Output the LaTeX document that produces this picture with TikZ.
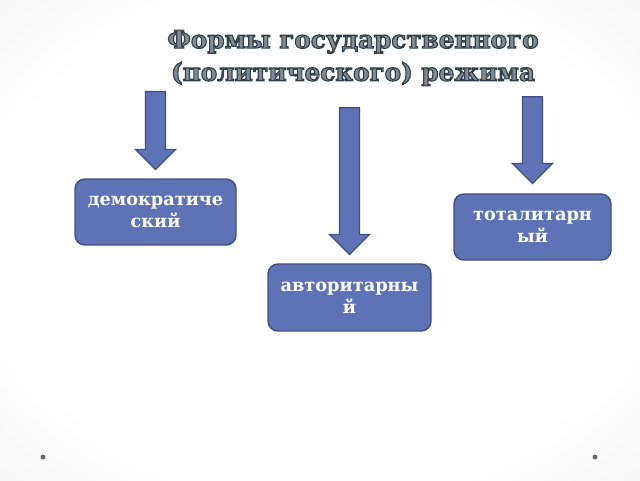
\documentclass[tikz,border=0pt]{standalone}
\usepackage{fontspec}
\setmainfont{DejaVu Serif}
\usetikzlibrary{shapes.arrows}
\definecolor{boxblue}{RGB}{93,115,181}
\definecolor{boxline}{RGB}{62,79,130}
\definecolor{bgmid}{RGB}{236,236,236}
\definecolor{bggray}{RGB}{214,214,214}
\definecolor{titlefill}{RGB}{125,140,150}
\definecolor{dotgray}{RGB}{105,105,105}
\pgfdeclareradialshading{slidebg}{\pgfpoint{0bp}{0bp}}{color(0bp)=(white); color(26bp)=(white); color(50bp)=(bgmid); color(70bp)=(bggray)}
\newcommand{\outlinetext}[1]{\special{pdf:literal 0.2 0.25 0.29 RG 0.85 w 2 Tr}#1\special{pdf:literal 0 Tr}}
\tikzset{
	formbox/.style={draw=boxline, fill=boxblue, line width=1.1pt, rounded corners=7.5pt, text=white, font=\bfseries\fontsize{13.3}{16.5}\selectfont, align=center, inner sep=0pt},
	blockarrow/.style={single arrow, draw=boxline, fill=boxblue, line width=0.9pt, inner sep=0pt, inner ysep=7.1pt, single arrow head extend=7.5pt, single arrow tip angle=90, rotate=-90, anchor=tip},
	titletext/.style={align=center, text=titlefill, font=\bfseries\fontsize{18.5}{24.5}\selectfont, inner sep=0pt},
}
\begin{document}
\begin{tikzpicture}[x=0.75pt, y=-0.75pt]
	\useasboundingbox (0,0) rectangle (640,480);
	\shade[shading=slidebg] (0,0) rectangle (640,480);
	\node[titletext] (title) at (353,58) {\outlinetext{Формы государственного}\\\outlinetext{(политического) режима}};
	\node[formbox, minimum width=120.75pt, minimum height=49.5pt] (dem) at (155.5,212) {демократиче\\ский};
	\node[formbox, minimum width=122.25pt, minimum height=50.25pt] (avt) at (349.5,297.5) {авторитарны\\й};
	\node[formbox, minimum width=117.75pt, minimum height=49.5pt] (tot) at (532.5,227) {тоталитарн\\ый};
	\node[blockarrow, minimum height=58.5pt] (ardem) at ([yshift=6pt]dem.north) {};
	\node[blockarrow, minimum height=110pt] (aravt) at ([yshift=6pt]avt.north) {};
	\node[blockarrow, minimum height=65pt] (artot) at ([yshift=6.75pt]tot.north) {};
	\fill[dotgray] (43,457) circle (2.5);
	\fill[dotgray] (595,457) circle (2.5);
\end{tikzpicture}
\end{document}
